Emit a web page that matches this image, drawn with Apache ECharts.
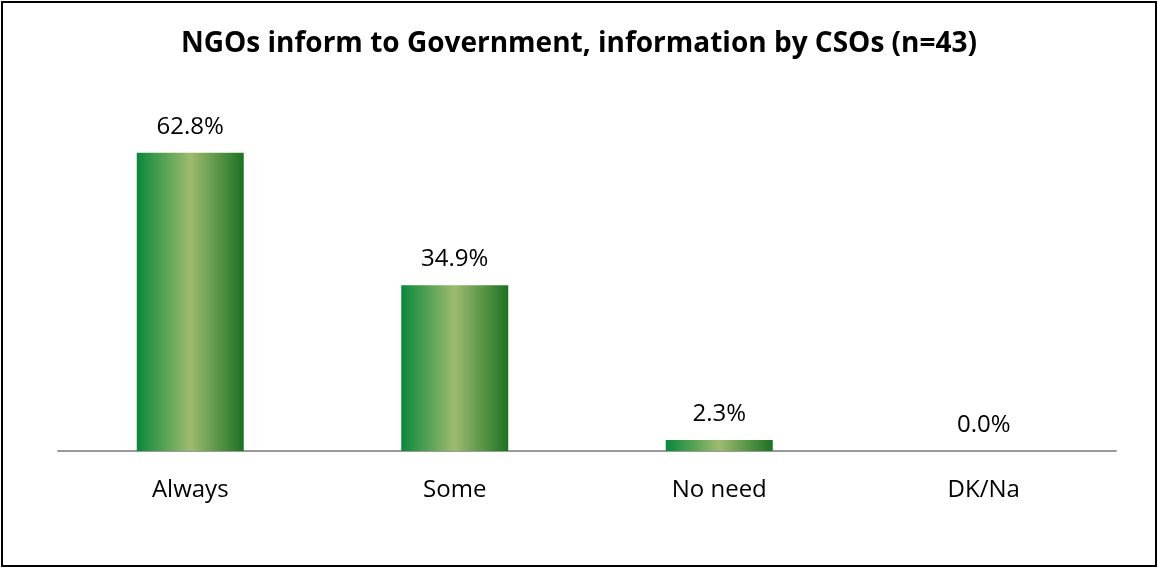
<!DOCTYPE html>
<html><head><meta charset="utf-8">
<script src="https://cdn.jsdelivr.net/npm/echarts@6/dist/echarts.min.js"></script>
<style>html,body{margin:0;padding:0;background:#fff}#c{width:1158px;height:569px}</style>
</head><body><div id="c"></div>
<script>
const title = "NGOs inform to Government, information by CSOs (n=43)";
const categories = ["Always", "Some", "No need", "DK/Na"];
const values = [62.8, 34.9, 2.3, 0.0];

const chart = echarts.init(document.getElementById('c'), null, {renderer: 'canvas'});
const font = "'Open Sans', 'Liberation Sans', sans-serif";
chart.setOption({
  animation: false,
  backgroundColor: '#fff',
  title: {
    text: title, left: 'center', top: 25,
    textStyle: {fontFamily: font, fontWeight: 'bold', fontSize: 28, color: '#000'}
  },
  graphic: [{
    type: 'rect', shape: {x: 2, y: 2, width: 1154, height: 564},
    style: {fill: 'none', stroke: '#000', lineWidth: 2}, silent: true, z: 100
  }],
  grid: {left: 58, right: 42, top: 118.5, bottom: 118, containLabel: false},
  xAxis: {
    type: 'category', data: categories,
    axisLine: {lineStyle: {color: '#999999', width: 2}},
    axisTick: {show: false},
    axisLabel: {fontFamily: font, fontSize: 24, color: '#000', margin: 27}
  },
  yAxis: {
    type: 'value', min: 0, max: 70, show: false,
    splitLine: {show: false}
  },
  series: [{
    type: 'bar', data: values, barWidth: 107,
    itemStyle: {
      color: new echarts.graphic.LinearGradient(0, 0, 1, 0, [
        {offset: 0, color: '#0a883a'},
        {offset: 0.5, color: '#9dbb6f'},
        {offset: 1, color: '#1b7222'}
      ])
    },
    label: {
      show: true, position: 'top', distance: 14,
      formatter: p => p.value.toFixed(1) + '%',
      fontFamily: font, fontSize: 24, color: '#000'
    }
  }]
});
</script></body></html>
